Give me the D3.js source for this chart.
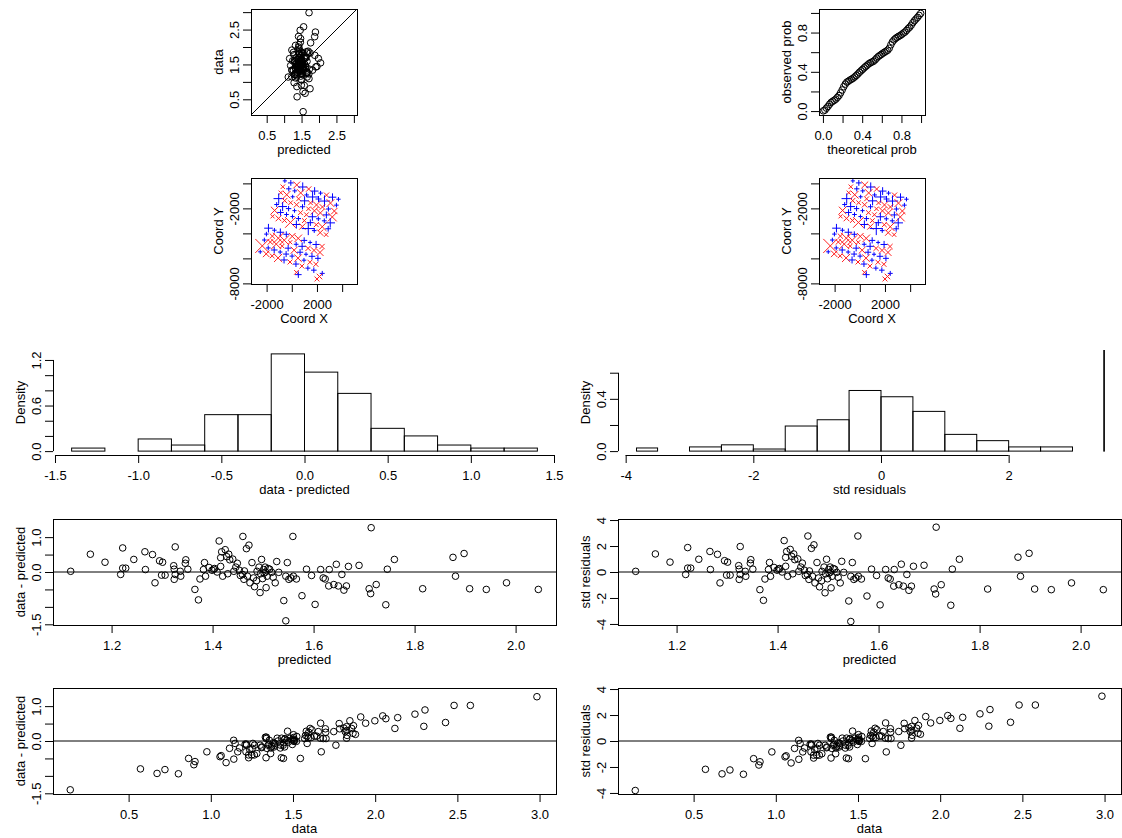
<!DOCTYPE html>
<html><head><meta charset="utf-8">
<script src="https://cdn.jsdelivr.net/npm/d3@7"></script>
<style>
body{margin:0;background:#fff}
svg{display:block}
text{font-family:"Liberation Sans",Arial,Helvetica,sans-serif;font-size:13px;fill:#000}
</style>
</head><body>
<svg id="c" width="1122" height="838"></svg>
<script>
// ---------------- data ----------------
const predicted = [1.119,1.158,1.187,1.222,1.218,1.222,1.228,1.244,1.266,1.281,
1.267,1.286,1.295,1.301,1.299,1.306,1.326,1.323,1.324,1.324,
1.326,1.336,1.347,1.346,1.351,1.365,1.372,1.375,1.384,1.382,
1.386,1.393,1.399,1.402,1.409,1.413,1.416,1.418,1.416,1.420,
1.425,1.428,1.432,1.434,1.440,1.442,1.446,1.449,1.453,1.460,
1.459,1.462,1.467,1.472,1.469,1.474,1.478,1.481,1.483,1.488,
1.492,1.494,1.497,1.499,1.501,1.502,1.504,1.506,1.508,1.513,
1.517,1.524,1.527,1.531,1.541,1.545,1.545,1.548,1.551,1.555,
1.559,1.560,1.566,1.577,1.586,1.596,1.603,1.614,1.619,1.623,
1.630,1.631,1.640,1.645,1.649,1.656,1.660,1.665,1.669,1.690,
1.710,1.713,1.714,1.724,1.743,1.746,1.760,1.816,1.876,1.881,
1.898,1.909,1.942,1.982,2.045,1.455,1.463,1.487,1.495,1.505,
1.510,1.430,1.404,1.520,1.337];

const observed = [1.139,1.668,1.467,1.912,1.148,1.332,1.338,1.604,1.846,1.781,
1.337,0.976,1.615,1.581,1.209,1.216,2.046,1.503,1.404,1.114,
1.256,1.356,1.697,1.596,1.431,0.865,0.572,1.175,1.654,1.452,
1.266,1.523,1.449,1.482,1.409,2.303,1.826,1.998,1.576,1.300,
2.065,1.868,1.942,1.784,1.810,1.462,1.586,1.699,1.503,2.480,
1.389,1.252,2.137,2.242,1.349,1.164,1.748,1.311,1.063,1.508,
1.632,0.904,1.857,1.309,1.571,1.472,1.644,1.056,1.388,1.593,
1.507,1.214,1.827,1.521,0.721,0.145,1.425,1.818,1.341,1.385,
2.579,1.440,1.366,0.897,1.666,1.496,0.673,1.684,1.449,1.423,
1.230,1.701,1.280,1.865,1.249,1.586,1.140,1.265,1.829,1.880,
1.230,1.093,2.984,1.364,0.803,1.826,2.120,1.336,2.296,1.761,
2.428,1.429,1.442,1.672,1.545,1.355,1.493,1.237,1.445,1.505,
1.610,1.380,1.504,1.370,1.217];

const stdResiduals = [0.05,1.39,0.76,1.88,-0.19,0.30,0.30,0.98,1.58,1.36,
0.19,-0.84,0.87,0.76,-0.24,-0.24,1.96,0.49,0.22,-0.57,
-0.19,0.05,0.95,0.68,0.22,-1.36,-2.18,-0.54,0.73,0.19,
-0.33,0.35,0.14,0.22,0.00,2.42,1.12,1.58,0.44,-0.33,
1.74,1.20,1.39,0.95,1.01,0.05,0.38,0.68,0.14,2.77,
-0.19,-0.57,1.82,2.09,-0.33,-0.84,0.73,-0.46,-1.14,0.05,
0.38,-1.60,0.98,-0.52,0.19,-0.08,0.38,-1.22,-0.33,0.22,
-0.03,-0.84,0.82,-0.03,-2.23,-3.81,-0.33,0.73,-0.57,-0.46,
2.77,-0.33,-0.54,-1.85,0.22,-0.27,-2.53,0.19,-0.46,-0.54,
-1.09,0.19,-0.98,0.60,-1.09,-0.19,-1.41,-1.09,0.44,0.52,
-1.31,-1.69,3.45,-0.98,-2.56,0.22,0.98,-1.31,1.14,-0.33,
1.44,-1.31,-1.36,-0.84,-1.36,-0.27,0.08,-0.68,-0.14,0.00,
0.27,-0.14,0.27,-0.41,-0.33];

const theoreticalProb = [0.004,0.020,0.036,0.052,0.068,0.084,0.100,0.116,0.132,0.148,
0.164,0.180,0.196,0.212,0.228,0.244,0.260,0.276,0.292,0.308,
0.324,0.340,0.356,0.372,0.388,0.404,0.420,0.436,0.452,0.468,
0.484,0.500,0.516,0.532,0.548,0.564,0.580,0.596,0.612,0.628,
0.644,0.660,0.676,0.692,0.708,0.724,0.740,0.756,0.772,0.788,
0.804,0.820,0.836,0.852,0.868,0.884,0.900,0.916,0.932,0.948,
0.964,0.980,0.996];
const observedProb = [0.002,0.010,0.030,0.048,0.070,0.088,0.100,0.110,0.122,0.140,
0.158,0.185,0.215,0.248,0.275,0.295,0.305,0.316,0.325,0.335,
0.348,0.362,0.378,0.395,0.410,0.425,0.440,0.455,0.468,0.482,
0.492,0.500,0.508,0.522,0.540,0.555,0.567,0.578,0.590,0.600,
0.610,0.620,0.640,0.675,0.705,0.725,0.740,0.752,0.762,0.770,
0.782,0.795,0.805,0.822,0.840,0.855,0.875,0.900,0.920,0.938,
0.955,0.975,0.995];

const coordX = [-550,-77,396,869,1342,1815,2288,2761,3234,3707,
-713,-240,233,706,1179,1652,2125,2598,3071,3544,
-876,-403,70,543,1016,1489,1962,2435,2908,3381,
-1039,-566,-93,380,853,1326,1799,2272,2745,3218,
-1202,-729,-256,217,690,1163,1636,2109,2582,3055,
-1365,-892,-419,54,527,1000,1473,1946,2419,2892,
-1528,-1055,-582,-109,364,837,1310,1783,2256,2729,
-1854,-1381,-908,-435,38,511,984,1457,1930,2403,
-2017,-1544,-1071,-598,-125,348,821,1294,1767,2240,
-2180,-1707,-1234,-761,-288,185,658,1131,1604,2077,
-2343,-1870,-1397,-924,-451,22,495,968,1441,1914,
-2506,-2033,-1560,-1087,-614,-141,332,805,1278,1751,
370,520,2000,2420,2200];
const coordY = [200,37,-126,-289,-452,-615,-778,-941,-1104,-1267,
-273,-436,-599,-762,-925,-1088,-1251,-1414,-1577,-1740,
-746,-909,-1072,-1235,-1398,-1561,-1724,-1887,-2050,-2213,
-1219,-1382,-1545,-1708,-1871,-2034,-2197,-2360,-2523,-2686,
-1692,-1855,-2018,-2181,-2344,-2507,-2670,-2833,-2996,-3159,
-2165,-2328,-2491,-2654,-2817,-2980,-3143,-3306,-3469,-3632,
-2638,-2801,-2964,-3127,-3290,-3453,-3616,-3779,-3942,-4105,
-3584,-3747,-3910,-4073,-4236,-4399,-4562,-4725,-4888,-5051,
-4057,-4220,-4383,-4546,-4709,-4872,-5035,-5198,-5361,-5524,
-4530,-4693,-4856,-5019,-5182,-5345,-5508,-5671,-5834,-5997,
-5003,-5166,-5329,-5492,-5655,-5818,-5981,-6144,-6307,-6470,
-5476,-5639,-5802,-5965,-6128,-6291,-6454,-6617,-6780,-6943,
-7120,-7300,-7650,-7200,-7450];

const histResBreaks = [-1.4,-1.2,-1.0,-0.8,-0.6,-0.4,-0.2,0.0,0.2,0.4,0.6,0.8,1.0,1.2,1.4];
const histResDensity = [0.04,0,0.16,0.08,0.48,0.48,1.28,1.04,0.76,0.30,0.20,0.08,0.04,0.04];
const histStdBreaks = [-3.83,-3.5,-3.0,-2.5,-2.0,-1.5,-1.0,-0.5,0.0,0.5,1.0,1.5,2.0,2.5,3.0,3.49,3.5];
const histStdDensity = [0.024,0,0.032,0.048,0.016,0.192,0.24,0.464,0.416,0.304,0.128,0.08,0.032,0.032,0,0.8];

// tick values and visible labels
const ticksData = [0.5,1.0,1.5,2.0,2.5,3.0];
const labelsDataSmall = [0.5,1.5,2.5];
const ticksProb = [0,0.2,0.4,0.6,0.8,1.0];
const labelsProb = [0,0.4,0.8];
const ticksCoordX = [-2000,0,2000,4000];
const labelsCoordX = [-2000,2000];
const ticksCoordY = [0,-2000,-4000,-6000,-8000];
const labelsCoordY = [-2000,-8000];
const ticksHistRes = [-1.5,-1.0,-0.5,0,0.5,1.0,1.5];
const ticksHistResY = [0,0.2,0.4,0.6,0.8,1.0,1.2];
const labelsHistResY = [0,0.6,1.2];
const ticksHistStd = [-4,-2,0,2];
const ticksHistStdY = [0,0.2,0.4,0.6];
const labelsHistStdY = [0,0.4];
const ticksPred = [1.2,1.4,1.6,1.8,2.0];
const ticksRes = [-1.5,-1.0,-0.5,0,0.5,1.0];
const labelsRes = [-1.5,0,1.0];
const ticksStd = [-4,-2,0,2,4];

// ---------------- layout ----------------
const svg = d3.select("#c");
const defs = svg.append("defs");
const TICK = 8;
const LAB = 25;     // tick label baseline offset
const TTL = 39;     // axis title baseline offset
const FONT = '"Liberation Sans", Arial, Helvetica, sans-serif';
const f1 = d => d.toFixed(1);
const f0 = d => d.toFixed(0);

const colL = {x0:53, x1:556}, colR = {x0:618, x1:1121};
const rowHist = {y0:350, y1:455}, rowRes = {y0:519, y1:625}, rowDat = {y0:688, y1:794};

let clipId = 0;
function clip(b){
  const id = "clip" + (clipId++);
  defs.append("clipPath").attr("id", id).append("rect")
    .attr("x", b.x0).attr("y", b.y0).attr("width", b.x1 - b.x0).attr("height", b.y1 - b.y0);
  return "url(#" + id + ")";
}
const has = (arr, d) => arr.some(v => Math.abs(v - d) < 1e-9);

function xAxis(x, yPos, ticks, labels, fmt, title, line){
  const g = svg.append("g").attr("transform", `translate(0,${yPos})`)
    .call(d3.axisBottom(x).tickValues(ticks).tickSize(TICK)
      .tickFormat(d => has(labels, d) ? fmt(d) : ""));
  g.select(".domain").remove();
  g.attr("font-size", 13).attr("font-family", FONT).style("color", "#000");
  g.selectAll("text").attr("dy", null).attr("y", LAB).attr("fill", "#000");
  if (line) g.append("line").attr("x1", x(ticks[0])).attr("x2", x(ticks[ticks.length-1]))
    .attr("y1", 0.5).attr("y2", 0.5).attr("stroke", "#000");
  if (title) svg.append("text").attr("x", (x.range()[0] + x.range()[1]) / 2).attr("y", yPos + TTL)
    .attr("text-anchor", "middle").text(title);
}
function yAxis(y, xPos, ticks, labels, fmt, title, line){
  const g = svg.append("g").attr("transform", `translate(${xPos},0)`)
    .call(d3.axisLeft(y).tickValues(ticks).tickSize(TICK)
      .tickFormat(d => has(labels, d) ? fmt(d) : ""));
  g.select(".domain").remove();
  g.attr("font-size", 13).attr("font-family", FONT).style("color", "#000");
  g.selectAll("text").attr("dy", null).attr("x", null).attr("text-anchor", "middle")
    .attr("fill", "#000").attr("transform", "translate(-12,0) rotate(-90)");
  if (line) g.append("line").attr("x1", 0.5).attr("x2", 0.5)
    .attr("y1", y(ticks[0])).attr("y2", y(ticks[ticks.length-1])).attr("stroke", "#000");
  if (title) {
    const cy = (y.range()[0] + y.range()[1]) / 2;
    svg.append("text").attr("transform", `translate(${xPos - 28},${cy}) rotate(-90)`)
      .attr("text-anchor", "middle").text(title);
  }
}
function frame(b){
  svg.append("rect").attr("x", b.x0 + 0.5).attr("y", b.y0 + 0.5)
    .attr("width", b.x1 - b.x0).attr("height", b.y1 - b.y0)
    .attr("fill", "none").attr("stroke", "#000");
}
function circles(g, xs, ys, x, y){
  g.selectAll(null).data(xs.map((v, i) => [v, ys[i]])).join("circle")
    .attr("cx", d => x(d[0])).attr("cy", d => y(d[1])).attr("r", 3.3)
    .attr("fill", "none").attr("stroke", "#000").attr("stroke-width", 1);
}

const residual = observed.map((v, i) => v - predicted[i]);

// ---- Panel 1: data vs predicted ----
(function(){
  const b = {x0:251, x1:357, y0:9, y1:115};
  const dom = [0.05, 3.09];
  const x = d3.scaleLinear().domain(dom).range([b.x0, b.x1]);
  const y = d3.scaleLinear().domain(dom).range([b.y1, b.y0]);
  const g = svg.append("g").attr("clip-path", clip(b));
  g.append("line").attr("x1", x(dom[0])).attr("y1", y(dom[0])).attr("x2", x(dom[1])).attr("y2", y(dom[1]))
    .attr("stroke", "#000");
  circles(g, predicted, observed, x, y);
  frame(b);
  xAxis(x, b.y1, ticksData, labelsDataSmall, f1, "predicted");
  yAxis(y, b.x0, ticksData, labelsDataSmall, f1, "data");
})();

// ---- Panel 2: pp plot ----
(function(){
  const b = {x0:819, x1:925, y0:9, y1:115};
  const dom = [-0.04, 1.04];
  const x = d3.scaleLinear().domain(dom).range([b.x0, b.x1]);
  const y = d3.scaleLinear().domain(dom).range([b.y1, b.y0]);
  const g = svg.append("g").attr("clip-path", clip(b));
  circles(g, theoreticalProb, observedProb, x, y);
  frame(b);
  xAxis(x, b.y1, ticksProb, labelsProb, f1, "theoretical prob");
  yAxis(y, b.x0, ticksProb, labelsProb, f1, "observed prob");
})();

// ---- Panels 3/4: coordinates (residual at each location) ----
function coordPanel(b, vals){
  const x = d3.scaleLinear().domain([-3240, 5180]).range([b.x0, b.x1]);
  const y = d3.scaleLinear().domain([-8050, 430]).range([b.y1, b.y0]);
  const maxAbs = d3.max(vals, v => Math.abs(v));
  const g = svg.append("g").attr("clip-path", clip(b));
  coordX.forEach((cx, k) => {
    const v = vals[(k * 47) % vals.length];   // location k <-> observation
    const s = 2 + 5 * Math.abs(v) / maxAbs;
    const px = x(cx), py = y(coordY[k]);
    const p = d3.path();
    if (v >= 0) {
      p.moveTo(px - s, py); p.lineTo(px + s, py);
      p.moveTo(px, py - s); p.lineTo(px, py + s);
    } else {
      p.moveTo(px - s, py - s); p.lineTo(px + s, py + s);
      p.moveTo(px - s, py + s); p.lineTo(px + s, py - s);
    }
    g.append("path").attr("d", p.toString()).attr("fill", "none")
      .attr("stroke", v >= 0 ? "#0000ff" : "#ff2020").attr("stroke-width", 1);
  });
  frame(b);
  xAxis(x, b.y1, ticksCoordX, labelsCoordX, f0, "Coord X");
  yAxis(y, b.x0, ticksCoordY, labelsCoordY, f0, "Coord Y");
}
coordPanel({x0:251, x1:357, y0:178, y1:284}, residual);
coordPanel({x0:819, x1:925, y0:178, y1:284}, stdResiduals);

// ---- Histograms ----
function histPanel(col, breaks, dens, xd, yd, xt, xfmt, yt, yl, title){
  const b = {x0:col.x0, x1:col.x1, y0:rowHist.y0, y1:rowHist.y1};
  const x = d3.scaleLinear().domain(xd).range([b.x0, b.x1]);
  const y = d3.scaleLinear().domain(yd).range([b.y1, b.y0]);
  const g = svg.append("g").attr("clip-path", clip(b));
  g.selectAll(null).data(dens.map((d, i) => ({a:breaks[i], b:breaks[i+1], d}))).join("rect")
    .attr("x", d => x(d.a)).attr("width", d => x(d.b) - x(d.a))
    .attr("y", d => y(d.d)).attr("height", d => y(0) - y(d.d))
    .attr("fill", "none").attr("stroke", "#000").attr("stroke-width", 1);
  xAxis(x, b.y1, xt, xt, xfmt, title, true);
  yAxis(y, b.x0, yt, yl, f1, "Density", true);
}
histPanel(colL, histResBreaks, histResDensity, [-1.512, 1.512], [-0.0512, 1.3312],
  ticksHistRes, f1, ticksHistResY, labelsHistResY, "data - predicted");
histPanel(colR, histStdBreaks, histStdDensity, [-4.12, 3.76], [-0.0298, 0.7738],
  ticksHistStd, f0, ticksHistStdY, labelsHistStdY, "std residuals");

// ---- Residual scatter panels ----
function scatterPanel(col, row, xs, ys, xd, yd, xt, xfmt, yt, yl, yfmt, xtitle, ytitle){
  const b = {x0:col.x0, x1:col.x1, y0:row.y0, y1:row.y1};
  const x = d3.scaleLinear().domain(xd).range([b.x0, b.x1]);
  const y = d3.scaleLinear().domain(yd).range([b.y1, b.y0]);
  const g = svg.append("g").attr("clip-path", clip(b));
  g.append("line").attr("x1", b.x0).attr("x2", b.x1).attr("y1", y(0)).attr("y2", y(0))
    .attr("stroke", "#000");
  circles(g, xs, ys, x, y);
  frame(b);
  xAxis(x, b.y1, xt, xt, xfmt, xtitle);
  yAxis(y, b.x0, yt, yl, yfmt, ytitle);
}
scatterPanel(colL, rowRes, predicted, residual, [1.084, 2.080], [-1.52, 1.52],
  ticksPred, f1, ticksRes, labelsRes, f1, "predicted", "data - predicted");
scatterPanel(colR, rowRes, predicted, stdResiduals, [1.084, 2.080], [-4.08, 4.08],
  ticksPred, f1, ticksStd, ticksStd, f0, "predicted", "std residuals");
scatterPanel(colL, rowDat, observed, residual, [0.04, 3.10], [-1.52, 1.52],
  ticksData, f1, ticksRes, labelsRes, f1, "data", "data - predicted");
scatterPanel(colR, rowDat, observed, stdResiduals, [0.04, 3.10], [-4.08, 4.08],
  ticksData, f1, ticksStd, ticksStd, f0, "data", "std residuals");
</script>
</body></html>
